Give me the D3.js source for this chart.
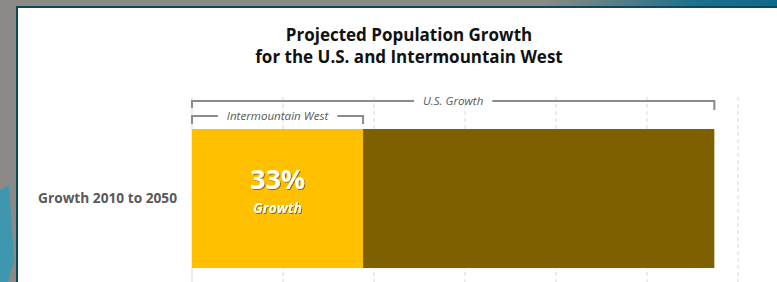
<!DOCTYPE html>
<html>
<head>
<meta charset="utf-8">
<script src="https://cdn.jsdelivr.net/npm/d3@7"></script>
<style>
  html, body { margin: 0; padding: 0; background: #8b8a86; }
  #chart { width: 777px; height: 282px; }
  text { font-family: 'Open Sans', 'Liberation Sans', sans-serif; }
</style>
</head>
<body>
<div id="chart"></div>
<script>
// Data (growth 2010 to 2050, millions of people)
const categories = ['Growth 2010 to 2050'];
const imwGrowth = [37.6];   // Intermountain West
const usGrowth = [114.8];   // whole U.S.
const xTicks = [0, 20, 40, 60, 80, 100, 120];
const titleLines = ['Projected Population Growth', 'for the U.S. and Intermountain West'];

const width = 777;
const height = 282;

const svg = d3.select('#chart')
  .append('svg')
  .attr('width', width)
  .attr('height', height)
  .attr('viewBox', [0, 0, width, height]);

const defs = svg.append('defs');

// background band on top right
const grad = defs.append('linearGradient').attr('id', 'topband');
grad.append('stop').attr('offset', '0%').attr('stop-color', '#8b8a86');
grad.append('stop').attr('offset', '70%').attr('stop-color', '#8b8a86');
grad.append('stop').attr('offset', '90%').attr('stop-color', '#1a6f8c');
grad.append('stop').attr('offset', '100%').attr('stop-color', '#0e6a8a');

const shadow = defs.append('filter').attr('id', 'shadow')
  .attr('x', '-20%').attr('y', '-20%').attr('width', '140%').attr('height', '140%');
shadow.append('feDropShadow')
  .attr('dx', 1).attr('dy', 1).attr('stdDeviation', 0.6)
  .attr('flood-color', '#000').attr('flood-opacity', 0.45);

svg.append('rect').attr('width', width).attr('height', 8).attr('fill', 'url(#topband)');

// teal patch on the left
svg.append('path')
  .attr('d', 'M0,190 L9,185 L14,260 L8,282 L0,282 Z')
  .attr('fill', '#2a9ab8')
  .attr('opacity', 0.8);

// panel
svg.append('rect')
  .attr('x', 17).attr('y', 7)
  .attr('width', width).attr('height', height)
  .attr('fill', '#fff')
  .attr('stroke', '#0b4a5e')
  .attr('stroke-width', 2);

// scales
const x = d3.scaleLinear().domain([0, 120]).range([192, 738]);
const y = d3.scaleBand().domain(categories).range([129, 268]).padding(0);

// grid lines
svg.append('g')
  .selectAll('line')
  .data(xTicks.slice(1))
  .join('line')
  .attr('x1', d => x(d)).attr('x2', d => x(d))
  .attr('y1', 97).attr('y2', height)
  .attr('stroke', '#d9d9d9')
  .attr('stroke-width', 1)
  .attr('stroke-dasharray', '4,3');

svg.append('line')
  .attr('x1', x(0)).attr('x2', x(0))
  .attr('y1', 97).attr('y2', height)
  .attr('stroke', '#d9d9d9');

// title
svg.append('g')
  .selectAll('text')
  .data(titleLines)
  .join('text')
  .attr('x', 409)
  .attr('y', (d, i) => 41 + i * 22)
  .attr('text-anchor', 'middle')
  .style('font-size', '17px')
  .style('font-weight', 'bold')
  .attr('fill', '#111')
  .text(d => d);

// bars
const rows = svg.append('g')
  .selectAll('g')
  .data(categories)
  .join('g');

rows.append('rect')
  .attr('x', (d, i) => x(0))
  .attr('y', d => y(d))
  .attr('width', (d, i) => x(usGrowth[i]) - x(0))
  .attr('height', y.bandwidth())
  .attr('fill', '#7f6000');

rows.append('rect')
  .attr('x', (d, i) => x(0))
  .attr('y', d => y(d))
  .attr('width', (d, i) => x(imwGrowth[i]) - x(0))
  .attr('height', y.bandwidth())
  .attr('fill', '#ffc000');

// category label
rows.append('text')
  .attr('x', 177)
  .attr('y', d => y(d) + y.bandwidth() / 2 + 4)
  .attr('text-anchor', 'end')
  .style('font-size', '13.7px')
  .style('font-weight', 'bold')
  .attr('fill', '#595959')
  .text(d => d);

// percent label inside yellow bar
rows.append('text')
  .attr('x', (d, i) => (x(0) + x(imwGrowth[i])) / 2)
  .attr('y', 189)
  .attr('text-anchor', 'middle')
  .attr('filter', 'url(#shadow)')
  .style('font-size', '27px')
  .style('font-weight', 'bold')
  .attr('fill', '#fff')
  .text((d, i) => Math.round(imwGrowth[i] / usGrowth[i] * 100) + '%');

rows.append('text')
  .attr('x', (d, i) => (x(0) + x(imwGrowth[i])) / 2)
  .attr('y', 213)
  .attr('text-anchor', 'middle')
  .attr('filter', 'url(#shadow)')
  .style('font-size', '14px')
  .style('font-weight', 'bold')
  .style('font-style', 'italic')
  .attr('fill', '#fff')
  .text('Growth');

// brackets
const brackets = [
  { label: 'U.S. Growth', end: usGrowth[0], ly: 101, drop: [7, 9] },
  { label: 'Intermountain West', end: imwGrowth[0], ly: 116, drop: [8, 8] }
];

brackets.forEach(b => {
  const g = svg.append('g');
  const x0 = x(0);
  const x1 = x(b.end);
  const cx = (x0 + x1) / 2;
  const label = g.append('text')
    .attr('x', cx)
    .attr('y', b.ly + 4)
    .attr('text-anchor', 'middle')
    .style('font-size', '11.6px')
    .style('font-style', 'italic')
    .attr('fill', '#595959')
    .text(b.label);
  const w = label.node().getComputedTextLength();
  const gap = 9;
  g.append('path')
    .attr('d', `M${x0},${b.ly + b.drop[0]} V${b.ly} H${cx - w / 2 - gap}`)
    .attr('fill', 'none').attr('stroke', '#8c8c8c').attr('stroke-width', 2);
  g.append('path')
    .attr('d', `M${cx + w / 2 + gap},${b.ly} H${x1} V${b.ly + b.drop[1]}`)
    .attr('fill', 'none').attr('stroke', '#8c8c8c').attr('stroke-width', 2);
});
</script>
</body>
</html>
